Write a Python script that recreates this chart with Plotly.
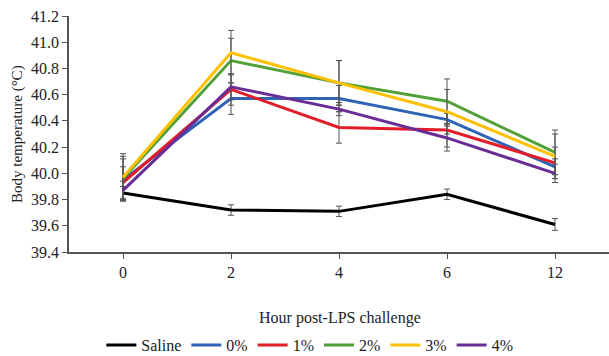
import plotly.graph_objects as go

hours = ["0", "2", "4", "6", "12"]
series_names = ["Saline", "0%", "1%", "2%", "3%", "4%"]
saline = [39.85, 39.72, 39.71, 39.84, 39.61]
p0 = [39.95, 40.57, 40.57, 40.41, 40.05]
p1 = [39.93, 40.64, 40.35, 40.33, 40.08]
p2 = [39.96, 40.86, 40.69, 40.55, 40.16]
p3 = [39.97, 40.92, 40.69, 40.47, 40.13]
p4 = [39.87, 40.66, 40.49, 40.27, 40.00]
err_saline = [0.05, 0.04, 0.04, 0.04, 0.045]
err_p0 = [0.16, 0.12, 0.10, 0.05, 0.06]
err_p1 = [0.12, 0.12, 0.12, 0.13, 0.12]
err_p2 = [0.17, 0.17, 0.17, 0.17, 0.17]
err_p3 = [0.18, 0.17, 0.17, 0.17, 0.17]
err_p4 = [0.07, 0.10, 0.05, 0.10, 0.07]
colors = ["#000000", "#2f63b5", "#e31d27", "#52a038", "#ffc000", "#6a2d96"]

values = [saline, p0, p1, p2, p3, p4]
errors = [err_saline, err_p0, err_p1, err_p2, err_p3, err_p4]

fig = go.Figure()
for name, vals, errs, col in zip(series_names, values, errors, colors):
    fig.add_trace(go.Scatter(
        x=hours, y=vals, name=name, mode="lines",
        line=dict(color=col, width=3),
        error_y=dict(type="data", array=errs, visible=True,
                     color="#555555", thickness=1, width=3),
    ))

font_family = "Liberation Serif"
fig.update_layout(
    width=609, height=356,
    margin=dict(l=69, r=0, t=16, b=104, autoexpand=False),
    paper_bgcolor="white", plot_bgcolor="white",
    font=dict(family=font_family, size=16, color="#222222"),
    showlegend=True,
    legend=dict(orientation="h", x=0.446, xanchor="center", y=-0.395, yanchor="middle",
                font=dict(family=font_family, size=16, color="#222222"),
                itemwidth=30, tracegroupgap=0),
    xaxis=dict(type="category", range=[-0.5, 4.5], showgrid=False,
               showline=True, linecolor="#555555", linewidth=1.5,
               ticks="outside", ticklen=5, tickcolor="#555555",
               tickfont=dict(family=font_family, size=16)),
    yaxis=dict(range=[39.4, 41.2], dtick=0.2, tick0=39.4, tickformat=".1f",
               showgrid=False, zeroline=False,
               showline=True, linecolor="#555555", linewidth=1.5,
               ticks="outside", ticklen=5, tickcolor="#555555",
               tickfont=dict(family=font_family, size=16)),
    annotations=[
        dict(text="Hour post-LPS challenge", xref="paper", yref="paper",
             x=0.502, y=-0.28, xanchor="center", yanchor="middle", showarrow=False,
             font=dict(family=font_family, size=16, color="#222222")),
        dict(text="Body temperature (°C)", xref="paper", yref="paper",
             x=-0.0963, y=0.5, xanchor="center", yanchor="middle", showarrow=False,
             textangle=-90, font=dict(family=font_family, size=15, color="#222222")),
    ],
)

fig.write_html("out.html", config={"displayModeBar": False},
               post_script="document.body.style.margin='0';document.body.style.overflow='hidden';")
